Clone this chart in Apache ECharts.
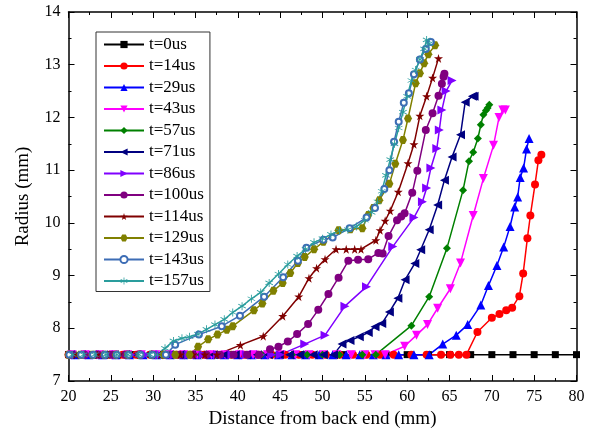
<!DOCTYPE html>
<html><head><meta charset="utf-8">
<script src="https://cdn.jsdelivr.net/npm/echarts@6/dist/echarts.min.js"></script>
<style>html,body{margin:0;padding:0;background:#fff}#c{width:590px;height:434px}</style>
</head><body><div id="c"></div>
<script>
var seriesNames = ['t=0us','t=14us','t=29us','t=43us','t=57us','t=71us','t=86us','t=100us','t=114us','t=129us','t=143us','t=157us'];
var xTicks = [20,25,30,35,40,45,50,55,60,65,70,75,80];
var yTicks = [7,8,9,10,11,12,13,14];

var t0 = [[20,7.5],[22.5,7.5],[25,7.5],[27.5,7.5],[30,7.5],[32.5,7.5],[35,7.5],[37.5,7.5],[40,7.5],[42.5,7.5],[45,7.5],[47.5,7.5],[50,7.5],[52.5,7.5],[55,7.5],[57.5,7.5],[60,7.5],[62.5,7.5],[65,7.5],[67.5,7.5],[70,7.5],[72.5,7.5],[75,7.5],[77.5,7.5],[80,7.5]];
var t14 = [[20,7.5],[21.6,7.5],[23.2,7.5],[24.8,7.5],[26.4,7.5],[28,7.5],[29.6,7.5],[31.2,7.5],[32.8,7.5],[34.4,7.5],[36,7.5],[37.6,7.5],[39.2,7.5],[40.8,7.5],[42.4,7.5],[44,7.5],[45.6,7.5],[47.2,7.5],[48.8,7.5],[50.4,7.5],[52,7.5],[53.6,7.5],[55.2,7.5],[56.8,7.5],[58.4,7.5],[60.5,7.5],[62.3,7.5],[64.0,7.5],[65.1,7.5],[66.1,7.5],[67.0,7.5],
  [68.3,7.93],[70.0,8.2],[70.9,8.27],[71.7,8.34],[72.4,8.39],[73.25,8.61],[73.7,9.04],[74.2,9.71],[74.55,10.14],[75.1,10.73],[75.5,11.19],[75.85,11.29]];
var t29 = [[20.8,7.5],[22.4,7.5],[24,7.5],[25.6,7.5],[27.2,7.5],[28.8,7.5],[30.4,7.5],[32,7.5],[33.6,7.5],[35.2,7.5],[36.8,7.5],[38.4,7.5],[40,7.5],[41.6,7.5],[43.2,7.5],[44.8,7.5],[46.4,7.5],[48,7.5],[49.6,7.5],[51.2,7.5],[52.8,7.5],[54.4,7.5],[56,7.5],[57.5,7.5],[59,7.5],[60.8,7.5],[62.6,7.5],
  [64.2,7.7],[65.8,7.87],[67.15,8.07],[68.7,8.44],[69.6,8.81],[70.6,9.19],[71.4,9.54],[72.15,9.93],[72.7,10.3],[73.05,10.49],[73.35,10.86],[73.75,11.04],[74.1,11.4],[74.4,11.6]];
var t43 = [[20.4,7.5],[22,7.5],[23.7,7.5],[25.3,7.5],[27,7.5],[28.6,7.5],[30.3,7.5],[31.9,7.5],[33.6,7.5],[35.2,7.5],[36.9,7.5],[38.5,7.5],[40.2,7.5],[41.8,7.5],[43.5,7.5],[45.1,7.5],[46.8,7.5],[48.4,7.5],[50.1,7.5],[51.7,7.5],[53.4,7.5],[55,7.5],[56.2,7.5],[57.4,7.5],
  [59.7,7.66],[61.1,7.87],[62.4,8.07],[63.6,8.38],[65.1,8.75],[66.3,9.24],[67.8,10.14],[69.0,10.84],[70.2,11.47],[70.85,12.0],[71.3,12.14],[71.6,12.14]];
var t57 = [[21.2,7.5],[23,7.5],[24.8,7.5],[26.6,7.5],[28.4,7.5],[30.2,7.5],[32,7.5],[33.8,7.5],[35.6,7.5],[37.4,7.5],[39.2,7.5],[41,7.5],[42.8,7.5],[44.6,7.5],[46.4,7.5],[48.2,7.5],[50,7.5],[52,7.5],[54.7,7.5],[56.3,7.5],
  [60.5,8.05],[62.6,8.6],[64.7,9.52],[66.6,10.62],[67.3,11.17],[67.8,11.34],[68.35,11.6],[68.7,11.86],[69.0,12.05],[69.3,12.13],[69.5,12.18],[69.7,12.24]];
var t71 = [[20.2,7.5],[21.5,7.5],[22.8,7.5],[24.1,7.5],[25.4,7.5],[26.7,7.5],[28,7.5],[29.3,7.5],[30.6,7.5],[31.9,7.5],[33.2,7.5],[34.5,7.5],[35.8,7.5],[37.1,7.5],[38.4,7.5],[39.7,7.5],[41,7.5],[42.3,7.5],[43.6,7.5],[44.9,7.5],[46.1,7.5],[47.3,7.5],[48.9,7.5],[50.1,7.5],[51.3,7.5],
  [52.3,7.7],[53.25,7.77],[54.35,7.84],[55.4,7.92],[56.2,8.03],[57.0,8.09],[57.9,8.31],[58.9,8.57],[59.75,8.92],[60.9,9.23],[61.6,9.49],[62.6,9.87],[63.6,10.34],[64.4,10.81],[65.3,11.25],[66.3,11.67],[66.85,12.29],[67.7,12.4],[67.9,12.4]];
var t86 = [[20.6,7.5],[22.3,7.5],[24,7.5],[25.7,7.5],[27.4,7.5],[29.1,7.5],[30.8,7.5],[32.5,7.5],[34.2,7.5],[35.9,7.5],[37.6,7.5],[39.3,7.5],[41,7.5],[42.7,7.5],[44,7.5],[45,7.5],
  [47.9,7.7],[50.3,7.87],[52.65,8.42],[55.2,8.79],[58.3,9.55],[60.8,10.1],[61.8,10.4],[62.3,10.66],[62.8,11.04],[63.5,11.41],[63.8,11.76],[64.1,12.14],[64.6,12.5],[65.3,12.7]];
var t100 = [[20.3,7.5],[21.9,7.5],[23.5,7.5],[25.1,7.5],[26.7,7.5],[28.3,7.5],[29.9,7.5],[31.5,7.5],[33.1,7.5],[34.7,7.5],[36.3,7.5],[37.9,7.5],[39.5,7.5],[41.1,7.5],[42.5,7.5],
  [43.8,7.6],[44.8,7.65],[45.9,7.75],[47.0,7.89],[48.3,8.08],[49.5,8.35],[50.7,8.65],[51.9,8.96],[53.05,9.28],[54.2,9.3],[55.4,9.31],[56.6,9.43],[57.1,9.42],[57.8,9.75],[58.8,10.05],[59.3,10.12],[59.7,10.18],[60.6,10.57],[61.2,10.99],[62.2,11.76],[63.0,12.08],[63.7,12.41],[64.1,12.64],[64.3,12.77],[64.4,12.83]];
var t114 = [[20.9,7.5],[23.4,7.5],[25.9,7.5],[28.4,7.5],[30.9,7.5],[33.2,7.5],[34.7,7.5],[36.1,7.5],[37.5,7.5],
  [40.3,7.68],[43.0,7.85],[45.3,8.23],[47.2,8.6],[48.4,8.95],[49.3,9.14],[50.3,9.31],[51.6,9.5],[52.8,9.5],[53.8,9.5],[54.55,9.5],[56.3,9.67],[56.8,9.86],[57.4,10.04],[58.0,10.23],[58.95,10.59],[60.1,11.13],[60.8,11.49],[61.5,12.03],[62.3,12.4],[63.0,12.75],[63.7,13.12]];
var t129 = [[20,7.5],[21.4,7.5],[22.8,7.5],[24.2,7.5],[25.6,7.5],[27,7.5],[28.4,7.5],[29.8,7.5],[31.2,7.5],[32.6,7.5],[34.3,7.5],
  [35.3,7.65],[36.5,7.79],[37.6,7.88],[38.7,7.97],[39.4,8.04],[41.9,8.34],[42.9,8.47],[44.2,8.71],[45.3,8.86],[46.2,9.05],[47.1,9.24],[47.9,9.35],[49.0,9.5],[50.1,9.64],[51.9,9.86],[53.3,9.88],[54.7,9.9],[55.4,10.15],[56.0,10.28],[56.7,10.43],[57.9,10.74],[58.6,11.12],[59.5,11.57],[60.1,11.98],[61.0,12.65],[61.5,12.84],[62.0,13.03],[62.5,13.2],[63.3,13.37]];
var t143 = [[20.1,7.5],[21.5,7.5],[22.9,7.5],[24.3,7.5],[25.7,7.5],[27.1,7.5],[28.5,7.5],[29.9,7.5],[31.5,7.5],
  [32.6,7.69],[35.4,7.88],[38.1,8.04],[40.25,8.24],[43.1,8.6],[45.35,8.97],[47.1,9.28],[48.1,9.53],[50.1,9.68],[51.2,9.72],[53.2,9.9],[55.2,10.1],[56.2,10.28],[57.3,10.64],[57.9,11.0],[58.45,11.54],[59.0,11.92],[59.6,12.28],[60.2,12.46],[60.8,12.82],[61.5,13.1],[62.2,13.3],[62.8,13.43]];
var t157 = [[20.5,7.5],[21.8,7.5],[23.1,7.5],[24.4,7.5],[25.7,7.5],[27,7.5],[28.3,7.5],[29.6,7.5],[30.5,7.5],
  [31.4,7.62],[32.4,7.76],[33.4,7.81],[34.3,7.84],[35.3,7.89],[36.3,7.98],[37.3,8.07],[38.4,8.17],[39.4,8.3],[40.5,8.42],[41.6,8.56],[42.7,8.68],[43.7,8.86],[44.8,9.03],[45.9,9.21],[47.0,9.37],[48.0,9.5],[49.0,9.63],[50.0,9.7],[51.0,9.78],[52.0,9.85],[53.0,9.87],[54.0,9.93],[55.0,10.05],[55.8,10.2],[56.5,10.4],[57.0,10.6],[57.5,10.9],[58.0,11.2],[58.5,11.5],[59.0,11.8],[59.5,12.1],[60.0,12.4],[60.5,12.7],[61.0,12.9],[61.5,13.1],[62.0,13.3],[62.3,13.47],[62.6,13.4]];

var allData = [t0,t14,t29,t43,t57,t71,t86,t100,t114,t129,t143,t157];
var colors = ['#000000','#ff0000','#0000ff','#ff00ff','#008000','#000080','#8000ff','#800080','#800000','#808000','#3d6db5','#2a9d9d'];
var STAR = 'path://M50,0 L61,35 L98,35 L68,57 L79,91 L50,70 L21,91 L32,57 L2,35 L39,35 Z';
var HEX = 'path://M25,0H75L100,50L75,100H25L0,50Z';
var AST = 'path://M45,0H55V100H45Z M90.8,79.3L4.2,29.3L9.2,20.7L95.8,70.7Z M4.2,70.7L90.8,20.7L95.8,29.3L9.2,79.3Z';
var symbols = ['rect','circle','triangle','triangle','diamond','triangle','triangle','circle',STAR,HEX,'emptyCircle',AST];
var rotates = [0,0,0,180,0,90,-90,0,0,0,0,0];
var sizes = [7,8,9,9,8,9,9,8,9,8,6,8];

var FONT = 'Liberation Serif';
var series = allData.map(function(d,i){
  return {
    name: seriesNames[i], type:'line', data:d, symbol:symbols[i], symbolSize:sizes[i], symbolRotate:rotates[i],
    showAllSymbol:true, color:colors[i],
    lineStyle:{color:colors[i], width:1.5},
    itemStyle:{color:colors[i], borderColor:colors[i], borderWidth: i===10?1.3:0},
    emphasis:{disabled:true}, animation:false
  };
});

var axisCommon = {
  type:'value', axisLine:{show:true,lineStyle:{color:'#000',width:1.5}},
  axisTick:{show:true,inside:true,length:6,lineStyle:{color:'#000',width:1}},
  minorTick:{show:true,splitNumber:2,length:3,lineStyle:{color:'#000',width:1}},
  splitLine:{show:false}, minorSplitLine:{show:false}
};
function merge(a,b){var o={};for(var k in a)o[k]=a[k];for(var k2 in b)o[k2]=b[k2];return o;}

var chart = echarts.init(document.getElementById('c'), null, {renderer:'canvas'});
chart.setOption({
  backgroundColor:'#fff', animation:false,
  grid:{left:68.5, right:13.5, top:12, bottom:53, containLabel:false},
  legend:{
    orient:'vertical', left:96, top:32, itemWidth:40, itemHeight:9, itemGap:4.5,
    padding:[4,6,2,7], borderColor:'#333', borderWidth:1, backgroundColor:'#fff',
    textStyle:{fontFamily:FONT, fontSize:17, color:'#000', lineHeight:17},
    data:seriesNames
  },
  xAxis:[
    merge(axisCommon,{min:20,max:80,interval:5,position:'bottom',
      name:'Distance from back end (mm)', nameLocation:'middle', nameGap:26,
      nameTextStyle:{fontFamily:FONT,fontSize:19,color:'#000'},
      axisLabel:{fontFamily:FONT,fontSize:16,color:'#000',margin:8,
        formatter:function(v){return xTicks.indexOf(v)>=0?String(v):'';}}}),
    merge(axisCommon,{min:20,max:80,interval:5,position:'top',axisLabel:{show:false}})
  ],
  yAxis:[
    merge(axisCommon,{min:7,max:14,interval:1,position:'left',
      name:'Radius (mm)', nameLocation:'middle', nameGap:36,
      nameTextStyle:{fontFamily:FONT,fontSize:19,color:'#000'},
      axisLabel:{fontFamily:FONT,fontSize:16,color:'#000',margin:8,
        formatter:function(v){return yTicks.indexOf(v)>=0?String(v):'';}}}),
    merge(axisCommon,{min:7,max:14,interval:1,position:'right',axisLabel:{show:false}})
  ],
  series:series
});
</script></body></html>
